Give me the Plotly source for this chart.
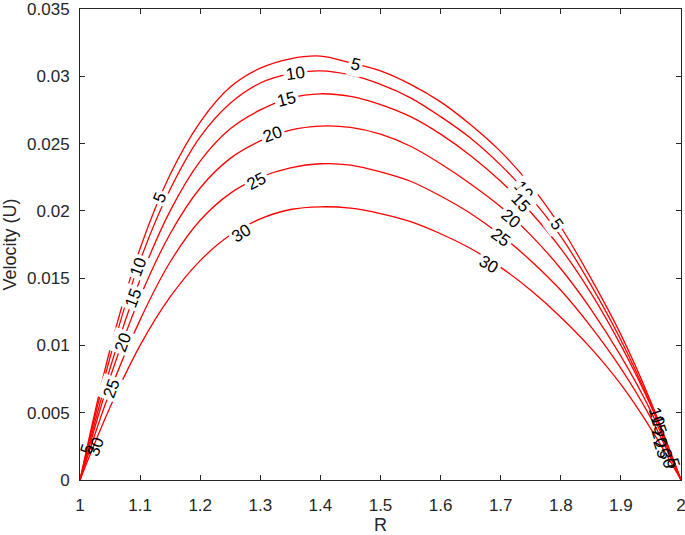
import plotly.graph_objects as go

# Radial positions (R) at which the curves were read
R = [1.00, 1.05, 1.10, 1.15, 1.20, 1.25, 1.30, 1.35, 1.40, 1.45, 1.50,
     1.55, 1.60, 1.65, 1.70, 1.75, 1.80, 1.85, 1.90, 1.95, 2.00]

# Velocity profiles for each parameter value
U5 = [0, 0.0097, 0.0172, 0.0227, 0.0266, 0.0292, 0.0306, 0.0313, 0.0315, 0.0310, 0.0304,
      0.0294, 0.0281, 0.0264, 0.0244, 0.0219, 0.0188, 0.0150, 0.0108, 0.0058, 0]
U10 = [0, 0.0091, 0.0163, 0.0216, 0.0255, 0.0280, 0.0295, 0.0302, 0.0304, 0.0301, 0.0294,
       0.0284, 0.0270, 0.0254, 0.0234, 0.0210, 0.0181, 0.0145, 0.0104, 0.0056, 0]
U15 = [0, 0.0083, 0.0149, 0.0200, 0.0237, 0.0261, 0.0275, 0.0284, 0.0287, 0.0285, 0.0279,
       0.0270, 0.0257, 0.0241, 0.0222, 0.0199, 0.0172, 0.0139, 0.0100, 0.0055, 0]
U20 = [0, 0.0076, 0.0136, 0.0183, 0.0217, 0.0239, 0.0252, 0.0260, 0.0263, 0.0262, 0.0257,
       0.0248, 0.0235, 0.0220, 0.0203, 0.0182, 0.0157, 0.0127, 0.0092, 0.0051, 0]
U25 = [0, 0.0066, 0.0119, 0.0162, 0.0193, 0.0213, 0.0225, 0.0232, 0.0235, 0.0234, 0.0229,
       0.0222, 0.0211, 0.0198, 0.0182, 0.0163, 0.0141, 0.0114, 0.0083, 0.0046, 0]
U30 = [0, 0.0054, 0.0100, 0.0136, 0.0163, 0.0182, 0.0194, 0.0201, 0.0203, 0.0202, 0.0198,
       0.0192, 0.0183, 0.0172, 0.0158, 0.0141, 0.0121, 0.0098, 0.0071, 0.0038, 0]

series = {"5": U5, "10": U10, "15": U15, "20": U20, "25": U25, "30": U30}

# Tick values and labels
X_TICKS = [1.0, 1.1, 1.2, 1.3, 1.4, 1.5, 1.6, 1.7, 1.8, 1.9, 2.0]
X_TICK_TEXT = ["1", "1.1", "1.2", "1.3", "1.4", "1.5", "1.6", "1.7", "1.8", "1.9", "2"]
Y_TICKS = [0, 0.005, 0.01, 0.015, 0.02, 0.025, 0.03, 0.035]
Y_TICK_TEXT = ["0", "0.005", "0.01", "0.015", "0.02", "0.025", "0.03", "0.035"]

# Inline labels: (text, R, U, angle, white background)
labels = [
    ("5", 1.1327, 0.0210, -68, True),
    ("5", 1.4588, 0.0309, 14, True),
    ("5", 1.7934, 0.0190, 54, True),
    ("10", 1.0967, 0.0158, -70, True),
    ("10", 1.3593, 0.0302, -8, True),
    ("10", 1.7380, 0.0215, 50, True),
    ("15", 1.0884, 0.0135, -69, True),
    ("15", 1.3428, 0.0283, -14, True),
    ("15", 1.7326, 0.0206, 47, True),
    ("20", 1.0719, 0.0102, -70, True),
    ("20", 1.3195, 0.0257, -20, True),
    ("20", 1.7160, 0.0194, 40, True),
    ("25", 1.0525, 0.0068, -70, True),
    ("25", 1.2930, 0.0222, -28, True),
    ("25", 1.6994, 0.0180, 36, True),
    ("30", 1.2680, 0.0183, -32, True),
    ("30", 1.6800, 0.0160, 30, True),
    ("5", 1.0110, 0.0023, -72, False),
    ("30", 1.0265, 0.0025, -70, False),
    ("10", 1.9590, 0.0047, 72, False),
    ("15", 1.9620, 0.0041, 72, False),
    ("20", 1.9646, 0.0031, 72, False),
    ("25", 1.9680, 0.0023, 72, False),
    ("30", 1.9770, 0.0016, 72, False),
    ("5", 1.9867, 0.0013, 72, False),
]

FONT = "Liberation Sans, Arial, Helvetica, sans-serif"

fig = go.Figure()
for name, vals in series.items():
    fig.add_trace(go.Scatter(
        x=R, y=vals, mode="lines", name=name,
        line=dict(color="#ff0000", width=1.3, shape="spline", smoothing=1.0),
        showlegend=False, hoverinfo="skip"))

for text, rx, uy, ang, bg in labels:
    fig.add_annotation(
        x=rx, y=uy, xref="x", yref="y", text=text, showarrow=False,
        textangle=ang, font=dict(family=FONT, size=17, color="black"),
        bgcolor="white" if bg else "rgba(0,0,0,0)", borderpad=2)

axis_common = dict(
    showline=True, linecolor="#262626", linewidth=1, mirror="ticks",
    ticks="inside", ticklen=5, tickcolor="#262626", showgrid=False,
    zeroline=False, ticklabeloverflow="allow",
    tickfont=dict(family=FONT, size=17, color="#262626"))

fig.update_xaxes(range=[1, 2], tickmode="array", tickvals=X_TICKS, ticktext=X_TICK_TEXT,
                 ticklabelstandoff=10,
                 title=dict(text="R", font=dict(family=FONT, size=18, color="#262626"),
                            standoff=6),
                 **axis_common)
fig.update_yaxes(range=[0, 0.035], tickmode="array", tickvals=Y_TICKS, ticktext=Y_TICK_TEXT,
                 ticklabelstandoff=6,
                 title=dict(text="Velocity (U)",
                            font=dict(family=FONT, size=18, color="#262626"),
                            standoff=6),
                 **axis_common)

fig.update_layout(
    width=685, height=535,
    margin=dict(l=80, r=4, t=9, b=55, autoexpand=False),
    plot_bgcolor="white", paper_bgcolor="white")

fig.write_html("out.html", config={"displayModeBar": False},
               post_script="document.body.style.margin='0';document.body.style.overflow='hidden';")
